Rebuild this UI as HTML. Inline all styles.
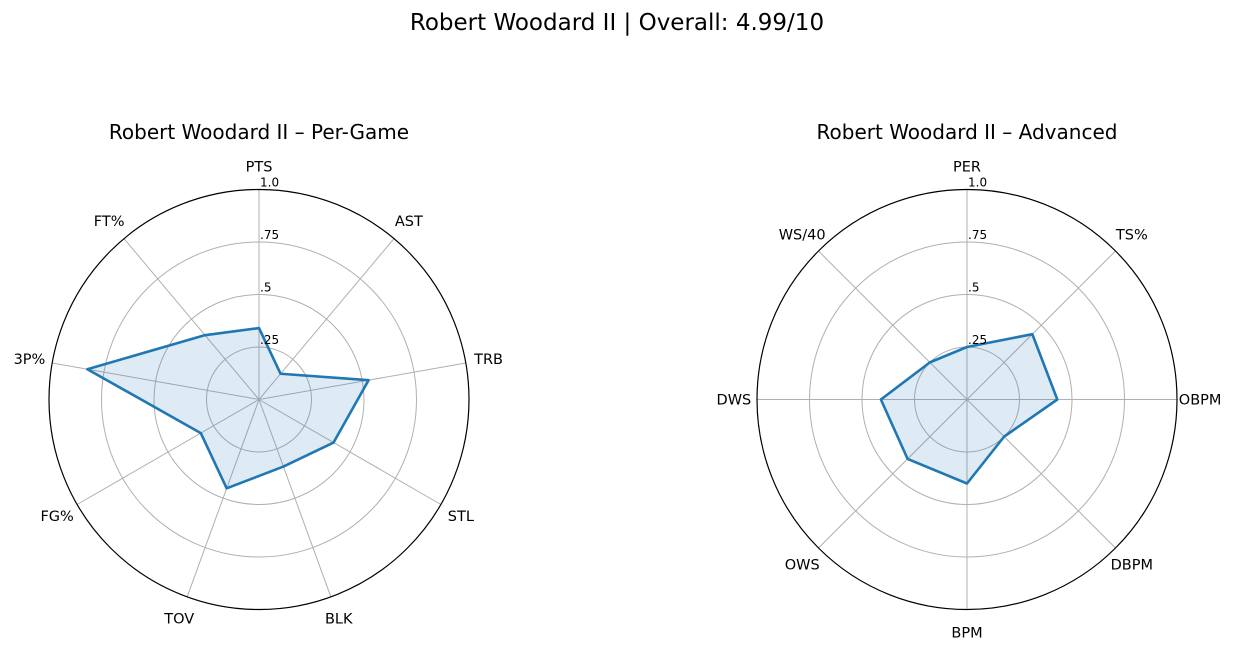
<!DOCTYPE html>
<html><head><meta charset="utf-8"><style>
body{margin:0;background:#fff;}
svg{display:block;font-family:"DejaVu Sans","Liberation Sans",sans-serif;}
</style></head><body>
<svg id="s" width="1234" height="653">
<text x="617" y="30" font-size="23" text-anchor="middle">Robert Woodard II | Overall: 4.99/10</text>
</svg>
<script>
const pgCategories=["PTS","AST","TRB","STL","BLK","TOV","FG%","3P%","FT%"];
const pgValues=[0.34,0.16,0.53,0.41,0.34,0.45,0.32,0.83,0.40];
const advCategories=["PER","TS%","OBPM","DBPM","BPM","OWS","DWS","WS/40"];
const advValues=[0.25,0.44,0.43,0.25,0.40,0.40,0.41,0.25];
const ringTicks=[0.25,0.5,0.75,1.0];
const ringLabels=[".25",".5",".75","1.0"];
const NS="http://www.w3.org/2000/svg";
const svg=document.getElementById('s');
function mk(tag,attrs,parent){const e=document.createElementNS(NS,tag);for(const k in attrs)e.setAttribute(k,attrs[k]);(parent||svg).appendChild(e);return e;}
function radar(cx,cy,R,cats,vals,title,key){
  const g=mk('g',{});
  
  
  const t=mk('text',{x:cx,y:139,'font-size':20,'text-anchor':'middle'},g);
  t.textContent=title;
  
  
  const n=cats.length;
  const ang=i=>i*2*Math.PI/n;
  const pt=(i,v)=>[cx+Math.sin(ang(i))*R*v,cy-Math.cos(ang(i))*R*v];
  ringTicks.forEach((v,j)=>{
    if(v<1){const c=mk('circle',{cx:cx,cy:cy,r:R*v,fill:'none',stroke:'#b0b0b0','stroke-width':1},g);
    
    }
  });
  for(let i=0;i<n;i++){const p=pt(i,1);
    const l=mk('line',{x1:cx,y1:cy,x2:p[0],y2:p[1],stroke:'#b0b0b0','stroke-width':1},g);
    
    }
  const oc=mk('circle',{cx:cx,cy:cy,r:R,fill:'none',stroke:'#000','stroke-width':1.2},g);
  
  
  const pts=vals.map((v,i)=>pt(i,v).join(',')).join(' ');
  const poly=mk('polygon',{points:pts,fill:'#1f77b4','fill-opacity':0.15,stroke:'#1f77b4','stroke-width':2.6,'stroke-linejoin':'round'},g);
  
  
  ringTicks.forEach((v,j)=>{
    const tt=mk('text',{x:cx+1,y:cy-R*v-3,'font-size':12},g);
    tt.textContent=ringLabels[j];
    
    
  });
  cats.forEach((c,i)=>{
    const p=pt(i,1.11);
    const tx=mk('text',{x:p[0],y:p[1]+5,'font-size':14.5,'text-anchor':'middle'},g);
    tx.textContent=c;
    
    
  });
}
radar(259,399.5,210,pgCategories,pgValues,"Robert Woodard II \u2013 Per-Game","per-game");
radar(967,399.5,210,advCategories,advValues,"Robert Woodard II \u2013 Advanced","advanced");
</script>
</body></html>
